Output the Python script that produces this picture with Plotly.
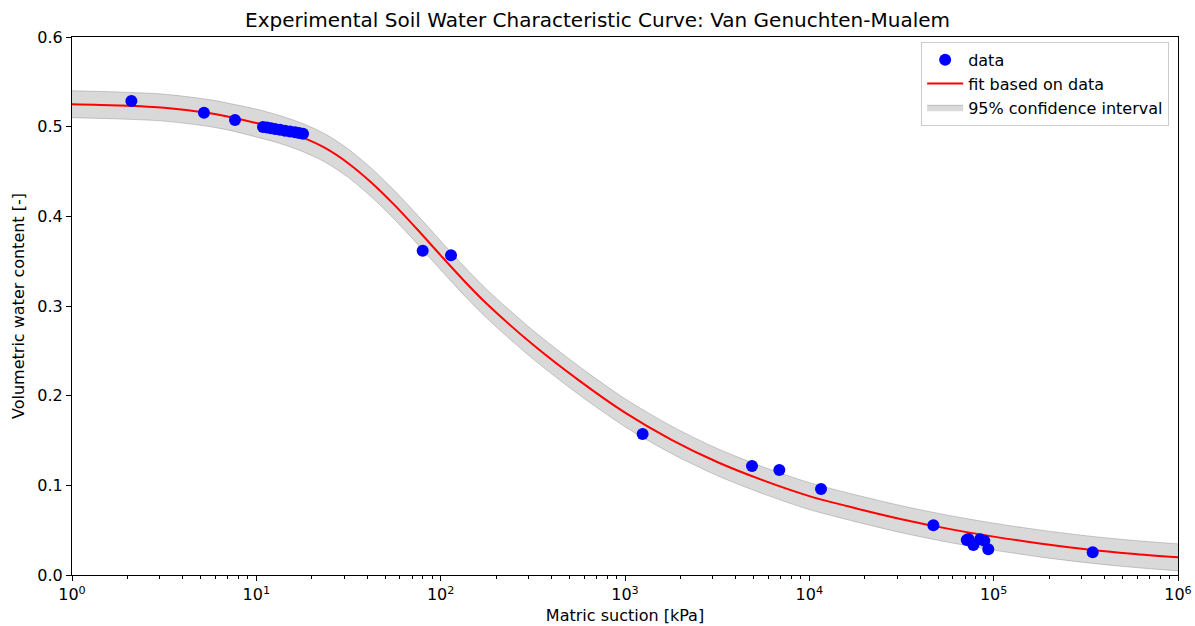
import plotly.graph_objects as go

# Measured points: matric suction [kPa] and volumetric water content [-]
suction = [2.1, 5.2, 7.66, 10.87, 11.43, 12.01, 12.63, 13.44, 14.3, 15.23, 16.21, 17.04, 17.92,
           79.9, 113.8, 1246, 4887, 6875, 11570, 47080, 71450, 73000, 77600, 84400, 89000, 93500, 344500]
theta = [0.5286, 0.5156, 0.5074, 0.4996, 0.4991, 0.4983, 0.4974, 0.4965, 0.4955, 0.4946, 0.4937,
         0.4929, 0.4921, 0.3617, 0.3565, 0.1572, 0.1216, 0.1171, 0.0959, 0.0554, 0.039, 0.0401,
         0.0335, 0.0398, 0.0383, 0.0287, 0.0255]

# Fitted Van Genuchten-Mualem curve and its 95% confidence band
fit_suction = [1, 1.778, 3.162, 5.623, 7.499, 10, 13.34, 17.78, 23.71, 31.62, 42.17, 56.23,
               74.99, 100, 133.4, 177.8, 316.2, 562.3, 1000, 1778, 3162, 5623, 10000, 17780,
               31620, 56230, 100000, 177800, 316200, 562300, 1000000]
fit_theta = [0.525, 0.5237, 0.5212, 0.5150, 0.5100, 0.5040, 0.4970, 0.4880, 0.4760, 0.4590,
             0.4375, 0.4125, 0.3850, 0.3565, 0.3285, 0.3025, 0.2570, 0.2170, 0.1810, 0.151,
             0.126, 0.1055, 0.088, 0.0745, 0.0622, 0.0517, 0.0428, 0.0352, 0.0288, 0.0237,
             0.0197]
ci_upper = [0.540, 0.5387, 0.5362, 0.5300, 0.5250, 0.5195, 0.5125, 0.5036, 0.4917, 0.4748,
            0.4534, 0.4285, 0.4011, 0.3726, 0.3446, 0.3185, 0.2729, 0.2328, 0.1966, 0.1663,
            0.1411, 0.1205, 0.1030, 0.0895, 0.0772, 0.0667, 0.0578, 0.0502, 0.0438, 0.0387,
            0.0347]
ci_lower = [0.510, 0.5087, 0.5062, 0.5000, 0.4950, 0.4885, 0.4815, 0.4724, 0.4603, 0.4432,
            0.4216, 0.3965, 0.3689, 0.3404, 0.3124, 0.2865, 0.2411, 0.2012, 0.1654, 0.1357,
            0.1109, 0.0905, 0.0730, 0.0595, 0.0472, 0.0367, 0.0278, 0.0202, 0.0138, 0.0087,
            0.0047]

x_ticks = [1, 10, 100, 1000, 10000, 100000, 1000000]
x_tick_text = ["10<sup>0</sup>", "10<sup>1</sup>", "10<sup>2</sup>", "10<sup>3</sup>",
               "10<sup>4</sup>", "10<sup>5</sup>", "10<sup>6</sup>"]
y_ticks = [0.0, 0.1, 0.2, 0.3, 0.4, 0.5, 0.6]

minor_vals = [m * 10 ** d for d in range(6) for m in range(2, 10)]

edge = dict(color="rgba(150,150,150,0.5)", width=1, shape="spline", smoothing=0.8)

fig = go.Figure()

# lower edge of the band, then the upper edge filled down to it
fig.add_trace(go.Scatter(
    x=fit_suction, y=ci_lower, mode="lines", line=edge,
    showlegend=False, hoverinfo="skip",
))
fig.add_trace(go.Scatter(
    x=fit_suction, y=ci_upper, mode="lines", line=edge,
    fill="tonexty", fillcolor="#d9d9d9",
    name="95% confidence interval", legendrank=3,
))
fig.add_trace(go.Scatter(
    x=fit_suction, y=fit_theta, mode="lines",
    line=dict(color="#ff0000", width=2, shape="spline", smoothing=0.8),
    name="fit based on data", legendrank=2,
))
fig.add_trace(go.Scatter(
    x=suction, y=theta, mode="markers",
    marker=dict(color="#0000ff", size=12),
    name="data", legendrank=1,
))

axis_font = dict(family="DejaVu Sans", size=16, color="black")

fig.update_layout(
    width=1195, height=626,
    margin=dict(l=72, r=17, t=37, b=51, autoexpand=False),
    paper_bgcolor="white", plot_bgcolor="white",
    font=dict(family="DejaVu Sans", size=16, color="black"),
    title=dict(text="Experimental Soil Water Characteristic Curve: Van Genuchten-Mualem",
               x=0.5, xanchor="center", y=0.968, yanchor="middle",
               font=dict(family="DejaVu Sans", size=20, color="black")),
    showlegend=True,
    legend=dict(x=0.992, y=0.991, xanchor="right", yanchor="top", traceorder="normal",
                bgcolor="rgba(255,255,255,0.85)", bordercolor="#cccccc", borderwidth=1,
                font=dict(family="DejaVu Sans", size=16), tracegroupgap=0,
                itemwidth=36),
)

fig.update_xaxes(
    type="log", range=[0, 6], automargin=False,
    tickmode="array", tickvals=x_ticks, ticktext=x_tick_text,
    ticks="outside", ticklen=5, tickwidth=1, tickcolor="black",
    minor=dict(tickmode="array", tickvals=minor_vals, ticks="outside", ticklen=3,
               tickwidth=0.8, tickcolor="black", showgrid=False),
    showline=True, linecolor="black", linewidth=1.2, mirror=True,
    showgrid=False, zeroline=False, tickfont=axis_font,
    title=dict(text="Matric suction [kPa]", font=axis_font, standoff=6),
)
fig.update_yaxes(
    range=[0, 0.6], automargin=False,
    tickmode="array", tickvals=y_ticks, ticktext=[f"{v:.1f}" for v in y_ticks],
    ticks="outside", ticklen=5, tickwidth=1, tickcolor="black",
    showline=True, linecolor="black", linewidth=1.2, mirror=True,
    showgrid=False, zeroline=False, tickfont=axis_font,
    title=dict(text="Volumetric water content [-]", font=axis_font, standoff=8),
)

fig.write_html("out.html")
